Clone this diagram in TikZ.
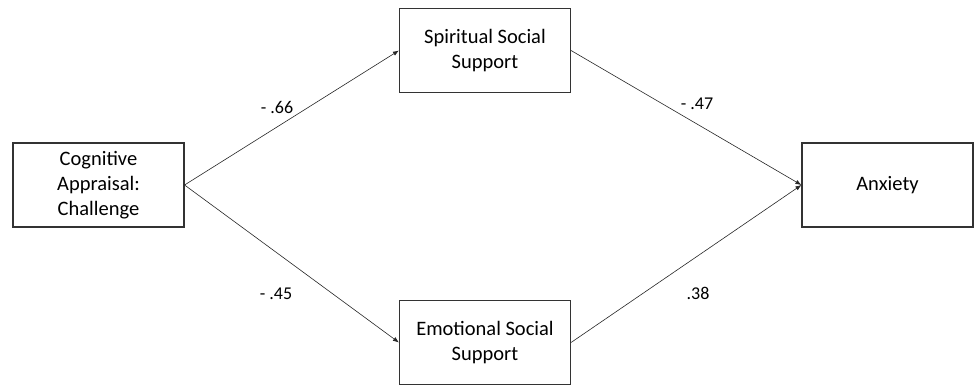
\documentclass[tikz,border=0pt]{standalone}
\usepackage{fontspec}
\setmainfont{Carlito}
\usetikzlibrary{arrows.meta}

\begin{document}
\begin{tikzpicture}[x=1pt,y=-1pt,
		var/.style={rectangle,draw=black!80,line width=1.1pt,minimum width=171pt,minimum height=84pt,
			align=center,font=\fontsize{20.5}{25}\selectfont,inner sep=0pt},
		path/.style={draw=black!85,line width=0.6pt,-{Latex[length=6pt,width=4.5pt]}},
		coef/.style={font=\fontsize{18}{22}\selectfont,inner sep=0pt}]
		\useasboundingbox (0,0) rectangle (975,385);
		\node[var](challenge) at (98.5,185){Cognitive\\Appraisal:\\Challenge};
		\node[var](spiritual) at (485,50.5){Spiritual Social\\Support};
		\node[var](emotional) at (485,342.5){Emotional Social\\Support};
		\node[var](anxiety) at (887.5,185){Anxiety};
		\draw[path] (challenge.east) -- (spiritual.west);
		\draw[path] (challenge.east) -- (emotional.west);
		\draw[path] (spiritual.east) -- (anxiety.west);
		\draw[path] (emotional.east) -- (anxiety.west);
		\node[coef](a1) at (277,107){- .66};
		\node[coef](b1) at (697,104){- .47};
		\node[coef](a2) at (276,294){- .45};
		\node[coef](b2) at (698,293){.38};
	\end{tikzpicture}
\end{document}
